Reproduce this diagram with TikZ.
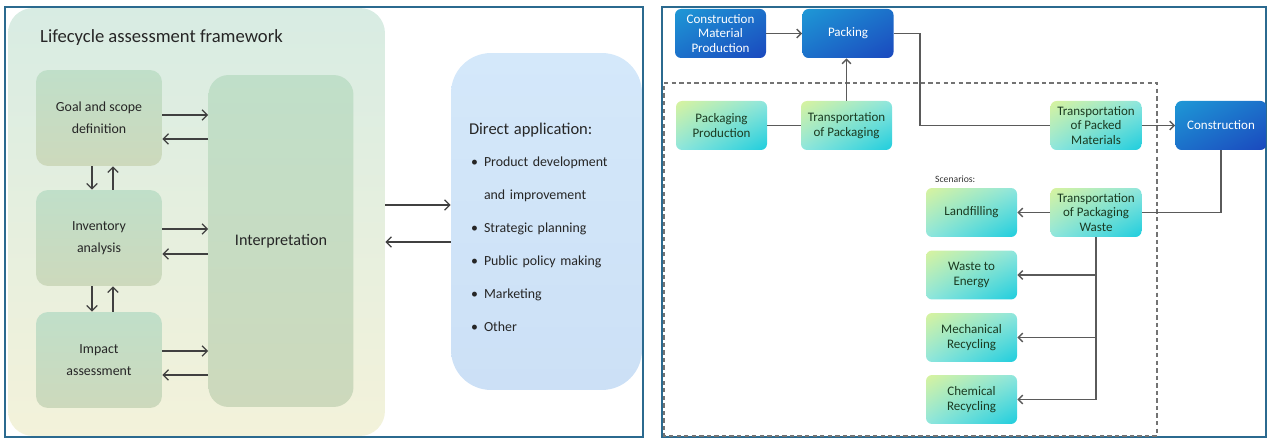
\documentclass[tikz,border=0pt]{standalone}
\usepackage{fontspec}
\setmainfont{Carlito}
\usetikzlibrary{arrows.meta, shadings}
\definecolor{framecol}{HTML}{2B6A8F}
\definecolor{lcatop}{HTML}{D8ECE3}
\definecolor{lcabot}{HTML}{F3F2DA}
\definecolor{stagetop}{HTML}{C0DFC9}
\definecolor{stagebot}{HTML}{CDD9BC}
\definecolor{apptop}{HTML}{D4E8FA}
\definecolor{appbot}{HTML}{CCE0F6}
\definecolor{arrowgray}{HTML}{404040}
\definecolor{linegray}{HTML}{5A5A5A}
\definecolor{bluetl}{HTML}{1E98D6}
\definecolor{bluebr}{HTML}{1B48BE}
\definecolor{bluemid}{HTML}{1C70CA}
\definecolor{greentl}{HTML}{D8F39E}
\definecolor{greenbr}{HTML}{1ECDDD}
\definecolor{greenmid}{HTML}{8FE6DE}
\definecolor{greentext}{HTML}{1B3B22}

\begin{document}
\begin{tikzpicture}[x=0.02cm, y=-0.02cm,
  stage/.style={rounded corners=0.24cm, top color=stagetop, bottom color=stagebot, minimum width=2.52cm, minimum height=1.92cm, align=center, font=\fontsize{7.9}{12.5}\selectfont, text=black!85},
  arr/.style={draw=arrowgray, line width=0.7pt, -{Straight Barb[length=3pt,width=6pt]}},
  proc/.style={rounded corners=0.12cm, minimum width=1.82cm, minimum height=0.98cm, align=center, inner sep=1pt, font=\fontsize{7.4}{8.5}\selectfont},
  bluebox/.style={proc, upper left=bluetl, lower right=bluebr, upper right=bluemid, lower left=bluemid, text=white},
  greenbox/.style={proc, upper left=greentl, lower right=greenbr, upper right=greenmid, lower left=greenmid, text=greentext},
  flow/.style={draw=linegray, line width=0.85pt},
  flowarr/.style={flow, -{Straight Barb[length=2.5pt,width=5pt]}}]

  \useasboundingbox (0,0) rectangle (1267,438);

  % Panel frames
  \draw[framecol, line width=0.85pt] (5,7) rectangle (643,437);
  \draw[framecol, line width=0.85pt] (662,7) rectangle (1266,437);

  % Left panel: the framework
  \node[rounded corners=0.5cm, top color=lcatop, bottom color=lcabot, minimum width=7.54cm, minimum height=8.56cm] (lca) at (196.5,222) {};
  \node[anchor=west, font=\fontsize{10.6}{12}\selectfont, text=black!85] (title) at (34,38) {Lifecycle assessment framework};

  \node[stage] (goal) at (99,118) {Goal and scope\\definition};
  \node[stage] (inv) at (99,238) {Inventory\\analysis};
  \node[stage] (imp) at (99,360) {Impact\\assessment};
  \node[stage, rounded corners=0.4cm, minimum width=2.9cm, minimum height=6.64cm, font=\fontsize{9.2}{11}\selectfont] (interp) at (281,241) {Interpretation};

  % to and from interpretation
  \foreach \s/\up/\dn in {goal/0.06/-0.42, inv/0.18/-0.32, imp/0.18/-0.30} {
    \draw[arr] ([yshift=\up cm]\s.east) -- ([yshift=\up cm]\s.east -| interp.west);
    \draw[arr] ([yshift=\dn cm]\s.east -| interp.west) -- ([yshift=\dn cm]\s.east);
  }

  % between the stages
  \draw[arr] ([xshift=-0.14cm]goal.south) -- ([xshift=-0.14cm]inv.north);
  \draw[arr] ([xshift=0.28cm]inv.north) -- ([xshift=0.28cm]goal.south);
  \draw[arr] ([xshift=-0.14cm]inv.south) -- ([xshift=-0.14cm]imp.north);
  \draw[arr] ([xshift=0.28cm]imp.north) -- ([xshift=0.28cm]inv.south);

  % Direct application
  \node[rounded corners=0.8cm, top color=apptop, bottom color=appbot, text width=3.1cm, inner xsep=0.36cm, minimum height=6.74cm, align=left, font=\fontsize{7.9}{18.7}\selectfont, text=black!85] (app) at (546.5,221.5)
    {\rule{0pt}{12.8pt}{\fontsize{9.4}{18.7}\selectfont Direct application:}\\
     \hspace*{0.04cm}\makebox[0.26cm][l]{\textbullet}Product development\\
     \hspace*{0.3cm}and improvement\\
     \hspace*{0.04cm}\makebox[0.26cm][l]{\textbullet}Strategic planning\\
     \hspace*{0.04cm}\makebox[0.26cm][l]{\textbullet}Public policy making\\
     \hspace*{0.04cm}\makebox[0.26cm][l]{\textbullet}Marketing\\
     \hspace*{0.04cm}\makebox[0.26cm][l]{\textbullet}Other};

  \draw[arr] ([yshift=0.34cm]lca.east) -- ([yshift=0.34cm]lca.east -| app.west);
  \draw[arr] ([yshift=-0.40cm]lca.east -| app.west) -- ([yshift=-0.40cm]lca.east);

  % Right panel: packaging system boundary
  \draw[linegray!85, line width=0.6pt, dash pattern=on 2.5pt off 1.8pt] (664,83) -- (1157,83) -- (1157,436) -- (664,436) -- cycle;

  \node[bluebox] (cmp) at (720.5,33.5) {Construction\\Material\\Production};
  \node[bluebox] (pack) at (848,33.5) {Packing};
  \node[greenbox] (pprod) at (721.5,125.5) {Packaging\\Production};
  \node[greenbox] (tpack) at (846.5,125.5) {Transportation\\of Packaging};
  \node[greenbox] (tpm) at (1096,125.5) {Transportation\\of Packed\\Materials};
  \node[bluebox] (constr) at (1221,125.5) {Construction};
  \node[greenbox] (tpw) at (1096,212.5) {Transportation\\of Packaging\\Waste};

  % Scenarios
  \node[anchor=west, font=\fontsize{5.5}{6}\selectfont, text=black!80] (scen) at (929,179) {Scenarios:};
  \node[greenbox] (land) at (971.5,212.5) {Landfilling};
  \node[greenbox] (wte) at (971.5,275) {Waste to\\Energy};
  \node[greenbox] (mech) at (971.5,337.5) {Mechanical\\Recycling};
  \node[greenbox] (chem) at (971.5,399.5) {Chemical\\Recycling};

  % Flows
  \draw[flowarr] (cmp) -- (pack);
  \draw[flow] (pprod) -- (tpack);
  \draw[flowarr] (tpack.north) -- (tpack.north |- pack.south);
  \draw[flow] (pack.east) -- ++(26,0) |- (tpm);
  \draw[flowarr] (tpm) -- (constr);
  \draw[flow] (constr.south) |- (tpw);
  \draw[flowarr] (tpw) -- (land);
  \foreach \s in {wte, mech, chem}
    \draw[flowarr] (tpw.south) |- (\s);

\end{tikzpicture}
\end{document}
